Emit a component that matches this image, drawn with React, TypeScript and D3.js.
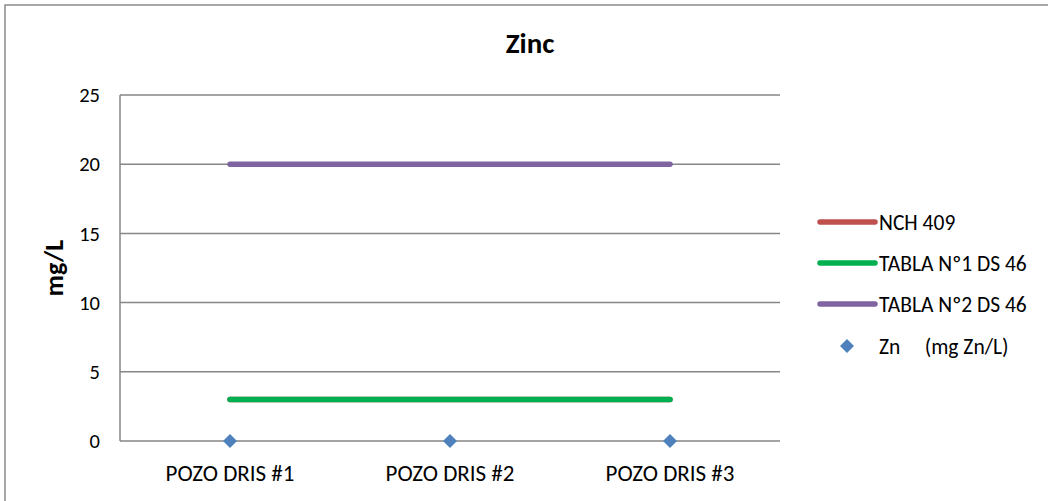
import React from "react";
import * as d3 from "d3";

const categories = ["POZO DRIS #1", "POZO DRIS #2", "POZO DRIS #3"];
const nch409 = [3, 3, 3];
const tabla1 = [3, 3, 3];
const tabla2 = [20, 20, 20];
const zinc = [0, 0, 0];
const yTicks = [0, 5, 10, 15, 20, 25];

const seriesNames = ["NCH 409", "TABLA Nº1 DS 46", "TABLA Nº2 DS 46", "Zn     (mg Zn/L)"];
const lineColors = ["#C0504D", "#00B050", "#8064A2"];
const markerColor = "#4F81BD";

const W = 1048;
const H = 501;
const FONT = "Carlito, Calibri, 'Liberation Sans', Arial, sans-serif";

const diamond = "M0,-7L7,0L0,7L-7,0Z";

export default function App() {
  const plot = { left: 120, right: 780, top: 95, bottom: 441 };
  const x = d3.scaleBand<string>().domain(categories).range([plot.left, plot.right]);
  const y = d3.scaleLinear().domain([0, 25]).range([plot.bottom, plot.top]);
  const cx = (c: string) => (x(c) as number) + x.bandwidth() / 2;

  const lineGen = d3
    .line<number>()
    .x((_, i) => cx(categories[i]))
    .y((d) => y(d));

  const lineSeries = [nch409, tabla1, tabla2];

  const legendX1 = 820;
  const legendX2 = 875;
  const legendTextX = 879;
  const legendYs = [222, 263, 304, 346];

  return (
    <svg
      width={W}
      height={H}
      style={{ position: "absolute", left: 0, top: 0, display: "block", background: "#fff" }}
    >
      <rect x={0} y={0} width={W} height={H} fill="#fff" />
      <rect x={5} y={5} width={W + 20} height={H + 20} fill="none" stroke="#8c8c8c" strokeWidth={1.5} />

      <text x={530} y={53} textAnchor="middle" fontFamily={FONT} fontWeight="bold" fontSize={29} fill="#000">
        Zinc
      </text>

      {yTicks.slice(1).map((t) => (
        <line key={t} x1={plot.left} x2={plot.right} y1={y(t)} y2={y(t)} stroke="#868686" strokeWidth={1.5} />
      ))}
      <line x1={plot.left} x2={plot.right} y1={y(0)} y2={y(0)} stroke="#868686" strokeWidth={1.5} />
      <line x1={plot.left} x2={plot.left} y1={plot.top} y2={plot.bottom} stroke="#868686" strokeWidth={1.5} />

      {yTicks.map((t) => (
        <text key={t} x={100} y={y(t)} dy="0.35em" textAnchor="end" fontFamily={FONT} fontSize={20.5} fill="#000">
          {t}
        </text>
      ))}

      {categories.map((c) => (
        <text key={c} x={cx(c)} y={481} textAnchor="middle" fontFamily={FONT} fontSize={23} fill="#000">
          {c}
        </text>
      ))}

      <text
        transform={`translate(63, ${(plot.top + plot.bottom) / 2}) rotate(-90)`}
        textAnchor="middle"
        fontFamily={FONT}
        fontWeight="bold"
        fontSize={26}
        fill="#000"
      >
        mg/L
      </text>

      {lineSeries.map((s, i) => (
        <path
          key={i}
          d={lineGen(s) as string}
          fill="none"
          stroke={lineColors[i]}
          strokeWidth={5.5}
          strokeLinecap="round"
        />
      ))}

      {zinc.map((v, i) => (
        <path key={i} d={diamond} transform={`translate(${cx(categories[i])}, ${y(v)})`} fill={markerColor} />
      ))}

      {seriesNames.map((name, i) => (
        <g key={name}>
          {i < 3 ? (
            <line
              x1={legendX1}
              x2={legendX2}
              y1={legendYs[i]}
              y2={legendYs[i]}
              stroke={lineColors[i]}
              strokeWidth={5.5}
              strokeLinecap="round"
            />
          ) : (
            <path d={diamond} transform={`translate(${(legendX1 + legendX2) / 2 - 0.5}, ${legendYs[i]})`} fill={markerColor} />
          )}
          <text
            x={legendTextX}
            y={legendYs[i]}
            dy="0.35em"
            fontFamily={FONT}
            fontSize={21.5}
            fill="#000"
            style={{ whiteSpace: "pre" }}
          >
            {name}
          </text>
        </g>
      ))}
    </svg>
  );
}
